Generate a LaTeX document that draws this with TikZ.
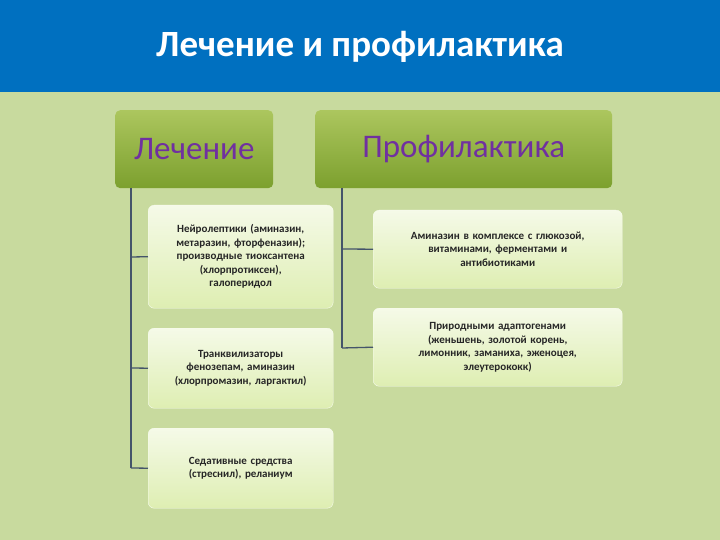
\documentclass[tikz,border=0pt]{standalone}
\usepackage{fontspec}
\setmainfont{Carlito}
\begin{document}
\begin{tikzpicture}[x=1pt,y=-1pt,
  hdr/.style={rounded corners=5pt,top color=hdtop,bottom color=hdbot,draw=none,minimum height=78pt,text=ttl,font=\fontsize{33}{36}\selectfont,anchor=north west},
  kid/.style={rounded corners=6pt,top color=white!70!kidc,bottom color=kidc,draw=white!80!kidc,align=center,font=\fontsize{11}{13.5}\selectfont\bfseries,text=black!85,anchor=north west,inner sep=2pt},
  lin/.style={draw=lc,line width=1.3pt}]
\definecolor{bg}{RGB}{200,218,158}
\definecolor{tb}{RGB}{0,112,192}
\definecolor{hdtop}{RGB}{172,198,94}
\definecolor{hdbot}{RGB}{124,160,46}
\definecolor{ttl}{RGB}{112,48,160}
\definecolor{kidc}{RGB}{222,238,178}
\definecolor{lc}{RGB}{68,84,106}
\useasboundingbox (0,0) rectangle (720,540);
\fill[bg] (0,0) rectangle (720,540);
\fill[tb] (0,0) rectangle (720,92);
\node[text=white,font=\fontsize{37}{40}\selectfont\bfseries] (title) at (360,47) {Лечение и профилактика};
\node[hdr,minimum width=158pt] (h1) at (115,110) {Лечение};
\node[hdr,minimum width=297pt] (h2) at (315,110) {Профилактика};
\node[kid,minimum height=103pt,text width=181pt] (a1) at (148,205) {Нейролептики (аминазин,\\ метаразин, фторфеназин);\\ производные тиоксантена\\ (хлорпротиксен),\\ галоперидол};
\node[kid,minimum height=80pt,text width=181pt] (a2) at (148,328) {Транквилизаторы\\ фенозепам, аминазин\\ (хлорпромазин, ларгактил)};
\node[kid,minimum height=80pt,text width=181pt] (a3) at (148,428) {Седативные средства\\ (стреснил), реланиум};
\node[kid,minimum height=78pt,text width=245pt] (b1) at (373,210) {Аминазин в комплексе с  глюкозой,\\ витаминами, ферментами и\\ антибиотиками\\[10pt]};
\node[kid,minimum height=78pt,text width=245pt] (b2) at (373,308) {Природными адаптогенами\\ (женьшень, золотой корень,\\ лимонник, заманиха, эженоцея,\\ элеутерококк)\\[6pt]};
\coordinate (lt) at (131,188);
\coordinate (lb) at (131,468);
\coordinate (rt) at (342,188);
\coordinate (rb) at (342,348);
\draw[lin] (lt) -- (lb);
\draw[lin] (rt) -- (rb);
\draw[lin] (131,257) -- (a1.west);
\draw[lin] (131,368) -- (a2.west);
\draw[lin] (lb) -- (a3.west);
\draw[lin] (342,249) -- (b1.west);
\draw[lin] (rb) -- (b2.west);
\end{tikzpicture}
\end{document}
